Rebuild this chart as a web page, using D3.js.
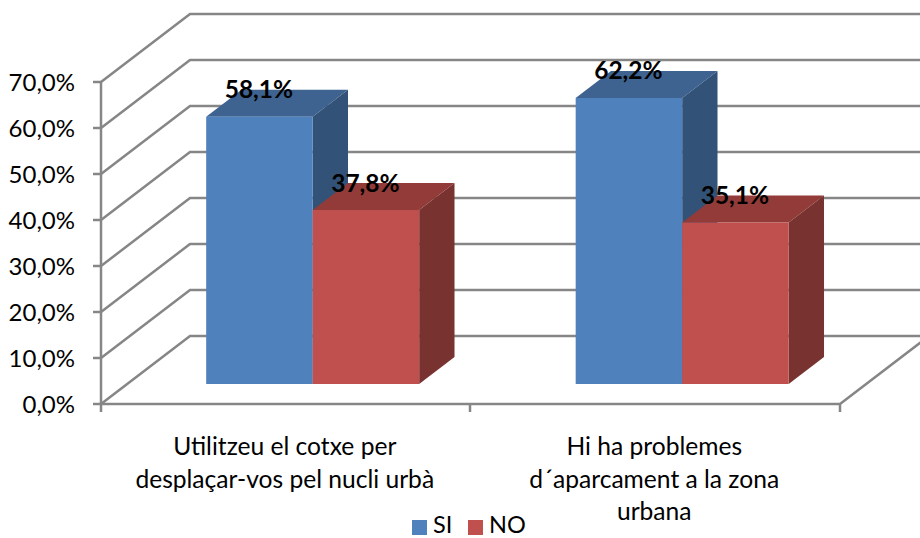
<!DOCTYPE html>
<html>
<head>
<meta charset="utf-8">
<title>SI / NO</title>
<script src="https://cdn.jsdelivr.net/npm/d3@7"></script>
<style>
  html, body { margin: 0; padding: 0; background: #fff; }
  svg { display: block; }
  text { font-family: Lato, "Open Sans", sans-serif; fill: #000; }
</style>
</head>
<body>
<script>
var categories = ["cotxe", "aparcament"];
var categoryLines = [
  ["Utilitzeu el cotxe per", "desplaçar-vos pel nucli urbà"],
  ["Hi ha problemes", "d´aparcament a la zona", "urbana"]
];
var seriesNames = ["SI", "NO"];
var siValues = [58.1, 62.2];
var noValues = [37.8, 35.1];
var yTicks = [0, 10, 20, 30, 40, 50, 60, 70];

var width = 920, height = 538;
var colors = {
  SI: { front: "#4f81bd", top: "#3e6390", side: "#335278" },
  NO: { front: "#c0504d", top: "#923b38", side: "#783230" }
};
var gridColor = "#868686";

// depth of the floor, in pixels
var depthX = 89, depthY = 68;
var barNear = 20 / 68, barFar = 47 / 68;

var svg = d3.select("body").append("svg").attr("width", width).attr("height", height);

var x = d3.scaleBand().domain(categories).range([101, 840]);
var inner = d3.scaleBand().domain(seriesNames).range([79, 292]);
var y = d3.scaleLinear().domain([0, 70]).range([404, 82]);

function pct(v) {
  return d3.format(".1f")(v).replace(".", ",") + "%";
}

// front plane point pushed back by depth d (0..1)
function pt(px, v, d) {
  return [px + depthX * d, y(v) - depthY * d];
}

var line = d3.line();

function drawGrid() {
  var g = svg.append("g")
    .attr("fill", "none")
    .attr("stroke", gridColor)
    .attr("stroke-width", 2.5);

  // back wall lines and the slanted side wall lines
  g.selectAll(".grid").data(yTicks).enter().append("path")
    .attr("d", function(t) {
      return line([pt(101, t, 0), pt(101, t, 1), pt(840, t, 1)]);
    });

  // value axis and ticks
  g.append("path").attr("d", line([[101, y(70)], [101, y(0)]]));
  g.selectAll(".ytick").data(yTicks).enter().append("path")
    .attr("d", function(t) { return line([[93, y(t)], [101, y(t)]]); });

  // floor front edge, right edge and category ticks
  g.append("path").attr("d", line([[101, y(0)], [840, y(0)], pt(840, 0, 1)]));
  g.selectAll(".xtick").data([101, 470, 840]).enter().append("path")
    .attr("d", function(px) { return line([[px, y(0)], [px, y(0) + 8]]); });
}

function drawBar(cat, name, value) {
  var c = colors[name];
  var x0 = x(cat) + inner(name);
  var x1 = x0 + inner.bandwidth();
  var g = svg.append("g").attr("class", "bar");

  g.append("path").attr("fill", c.top)
    .attr("d", line([pt(x0, value, barNear), pt(x1, value, barNear), pt(x1, value, barFar), pt(x0, value, barFar)]) + "Z");
  g.append("path").attr("fill", c.side)
    .attr("d", line([pt(x1, 0, barNear), pt(x1, value, barNear), pt(x1, value, barFar), pt(x1, 0, barFar)]) + "Z");
  g.append("path").attr("fill", c.front)
    .attr("d", line([pt(x0, 0, barNear), pt(x1, 0, barNear), pt(x1, value, barNear), pt(x0, value, barNear)]) + "Z");
}

function drawLabels(cat, name, value) {
  var x0 = x(cat) + inner(name);
  var p = pt(x0 + inner.bandwidth() / 2, value, barNear);
  svg.append("text")
    .attr("x", p[0] - 0.5)
    .attr("y", p[1] - 18.5)
    .attr("text-anchor", "middle")
    .attr("font-size", 24.5)
    .attr("font-weight", 700)
    .text(pct(value));
}

drawGrid();

categories.forEach(function(cat, i) {
  drawBar(cat, "SI", siValues[i]);
  drawBar(cat, "NO", noValues[i]);
});
categories.forEach(function(cat, i) {
  drawLabels(cat, "SI", siValues[i]);
  drawLabels(cat, "NO", noValues[i]);
});

// value axis labels
svg.selectAll(".ylabel").data(yTicks).enter().append("text")
  .attr("x", 75)
  .attr("y", function(t) { return y(t) + 9; })
  .attr("text-anchor", "end")
  .attr("font-size", 24)
  .text(function(t) { return pct(t); });

// category labels
categories.forEach(function(cat, i) {
  svg.append("g").selectAll("text").data(categoryLines[i]).enter().append("text")
    .attr("x", x(cat) + x.bandwidth() / 2 - 1)
    .attr("y", function(d, j) { return 455 + j * 32.5; })
    .attr("text-anchor", "middle")
    .attr("font-size", 24.6)
    .text(function(d) { return d; });
});

// legend
var legendX = [412, 468];
seriesNames.forEach(function(name, i) {
  svg.append("rect")
    .attr("x", legendX[i]).attr("y", 520)
    .attr("width", 15).attr("height", 15)
    .attr("fill", colors[name].front);
  svg.append("text")
    .attr("x", legendX[i] + 21).attr("y", 533)
    .attr("font-size", 23.5)
    .text(name);
});
</script>
</body>
</html>
